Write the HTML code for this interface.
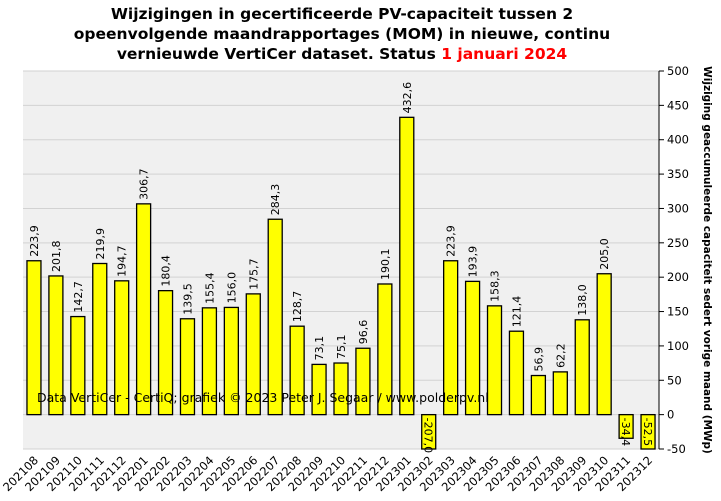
<!DOCTYPE html>
<html><head><meta charset="utf-8"><style>
body{margin:0;background:#fff;}
svg{display:block;font-family:"DejaVu Sans","Liberation Sans",sans-serif;}
</style></head><body>
<svg id="chart" width="721" height="501">
<text x="342" y="19" text-anchor="middle" font-size="15.5" font-weight="bold">Wijzigingen in gecertificeerde PV-capaciteit tussen 2</text>
<text x="342" y="39" text-anchor="middle" font-size="15.5" font-weight="bold">opeenvolgende maandrapportages (MOM) in nieuwe, continu</text>
<text x="342" y="59" text-anchor="middle" font-size="15.5" font-weight="bold">vernieuwde VertiCer dataset. Status <tspan fill="#ff0000">1 januari 2024</tspan></text>
<rect x="23" y="71" width="636" height="378" fill="#f0f0f0"/>
<g id="grid"></g>
<g id="bars"></g>
<text x="37" y="402" font-size="12.5" fill="#000">Data VertiCer - CertiQ; grafiek © 2023 Peter J. Segaar / www.polderpv.nl</text>
<g id="axis"></g>
<text transform="translate(704,260) rotate(90)" text-anchor="middle" font-size="10.5" font-weight="bold">Wijziging geaccumuleerde capaciteit sedert vorige maand (MWp)</text>
</svg>
<script>
const categories=["202108","202109","202110","202111","202112","202201","202202","202203","202204","202205","202206","202207","202208","202209","202210","202211","202212","202301","202302","202303","202304","202305","202306","202307","202308","202309","202310","202311","202312"];
const values=[223.9,201.8,142.7,219.9,194.7,306.7,180.4,139.5,155.4,156.0,175.7,284.3,128.7,73.1,75.1,96.6,190.1,432.6,-207.0,223.9,193.9,158.3,121.4,56.9,62.2,138.0,205.0,-34.4,-52.5];
const yTicks=[-50,0,50,100,150,200,250,300,350,400,450,500];
const NS="http://www.w3.org/2000/svg";
const L=23,R=659,T=71,B=449,ymin=-50,ymax=500;
const y=v=>B-(v-ymin)/(ymax-ymin)*(B-T);
const bw=(R-L)/categories.length;
const x=i=>L+bw*(i+0.5);
function mk(tag,attrs,parent,txt){const e=document.createElementNS(NS,tag);for(const k in attrs)e.setAttribute(k,attrs[k]);if(txt!==undefined)e.textContent=txt;parent.appendChild(e);return e;}
const grid=document.getElementById('grid'),bars=document.getElementById('bars'),axis=document.getElementById('axis');
yTicks.forEach(t=>{
 const g=mk('line',{x1:L,x2:R,y1:y(t),y2:y(t),stroke:'#d2d2d2','stroke-width':1},grid);
 
 
 const tk=mk('line',{x1:R,x2:R+5,y1:y(t),y2:y(t),stroke:'#000'},axis);
 
 
 const lb=mk('text',{x:R+8,y:y(t)+4,'font-size':11.5},axis,String(t));
 
 
});
const ax=mk('line',{x1:R,x2:R,y1:T,y2:B,stroke:'#000'},axis);


values.forEach((v,i)=>{
 const cx=x(i),w=14;
 const vc=Math.max(ymin,Math.min(ymax,v));
 const top=Math.min(y(0),y(vc)),h=Math.abs(y(vc)-y(0));
 const r=mk('rect',{x:cx-w/2,y:top,width:w,height:h,fill:'#ffff00',stroke:'#000','stroke-width':1.3},bars);
 
 
 const s=v.toFixed(1).replace('.',',');
 let t;
 if(v>=0){t=mk('text',{transform:`translate(${cx+4},${y(v)-4}) rotate(-90)`,'font-size':11},bars,s);}
 else{t=mk('text',{transform:`translate(${cx-4},${y(0)+3}) rotate(90)`,'font-size':11},bars,s);}
 
 
 const c=mk('text',{transform:`translate(${cx+5},${B+12}) rotate(-45)`,'text-anchor':'end','font-size':11.5},axis,categories[i]);
 
 
});
</script>
</body></html>
